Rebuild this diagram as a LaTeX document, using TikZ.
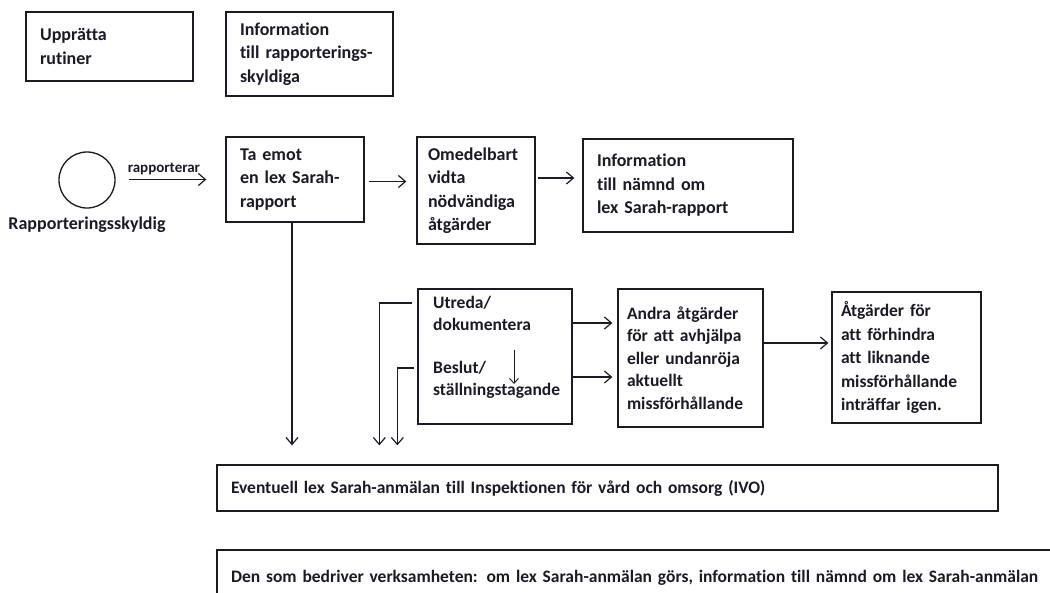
\documentclass[tikz,border=0pt]{standalone}
\usepackage{fontspec}
\setmainfont{Carlito}[RawFeature={-liga}]
\usetikzlibrary{arrows.meta}
\definecolor{ink}{HTML}{1B1B26}
\tikzset{
  box/.style={draw=ink, line width=1.3pt, rectangle, inner xsep=14pt, inner ysep=0pt,
    align=left, text=ink, font=\fontsize{18}{23.5}\selectfont\bfseries},
  arr/.style={draw=ink, line width=1.2pt, -{Straight Barb[length=7pt,width=12pt,line width=1.2pt]}},
  lbl/.style={text=ink, inner sep=0pt, font=\fontsize{17.5}{22}\selectfont\bfseries},
}
\begin{document}
\begin{tikzpicture}[x=1pt,y=-1pt]
\useasboundingbox[fill=white] (0,0) rectangle (1050,592);
\clip (0,0) rectangle (1050,592);
% top boxes
\node[box, minimum width=167pt, minimum height=69pt, text width=139pt] (upp) at (109.5,46.5) {Upprätta\\rutiner};
\node[box, minimum width=167pt, minimum height=84pt, text width=139pt] (info1) at (309.5,54) {Information\\till rapporterings-\\skyldiga};
% reporter
\node[draw=ink, line width=1.3pt, circle, minimum size=56pt, inner sep=0pt] (rep) at (87,180) {};
\node[lbl, font=\fontsize{18}{22}\selectfont\bfseries] (replbl) at (87,225) {Rapporteringsskyldig};
% row 2
\node[box, minimum width=138pt, minimum height=85pt, text width=110pt] (taemot) at (295,179.5) {Ta emot\\en lex Sarah-\\rapport};
\node[box, minimum width=118pt, minimum height=107pt, text width=96pt, inner xsep=11pt] (omedel) at (476,190.5) {Omedelbart\\vidta\\nödvändiga\\åtgärder};
\node[box, minimum width=210pt, minimum height=93pt, text width=182pt] (infon) at (688,185.5) {Information\\till nämnd om\\lex Sarah-rapport};
% row 3
\node[draw=ink, line width=1.3pt, rectangle, minimum width=154pt, minimum height=135pt, inner sep=0pt] (utr) at (495,356.5) {};
\node[lbl, anchor=west, align=left] (utreda) at (433,313) {Utreda/\\dokumentera};
\node[lbl, anchor=west, align=left] (beslut) at (433,380) {Beslut/\\ställningstagande};
\node[box, minimum width=145pt, minimum height=138pt, text width=127pt, inner xsep=9pt, font=\fontsize{17.5}{22.5}\selectfont\bfseries] (andra) at (690.5,358) {Andra åtgärder\\för att avhjälpa\\eller undanröja\\aktuellt\\missförhållande};
\node[box, minimum width=149pt, minimum height=131pt, text width=131pt, inner xsep=9pt, font=\fontsize{17.5}{23.5}\selectfont\bfseries] (atg) at (906.5,357.5) {Åtgärder för\\att förhindra\\att liknande\\missförhållande\\inträffar igen.};
% bottom boxes
\node[box, minimum width=781pt, minimum height=46pt, text width=753pt, font=\fontsize{17.5}{20}\selectfont\bfseries] (event) at (607.5,488) {Eventuell lex Sarah-anmälan till Inspektionen för vård och omsorg (IVO)};
\node[box, minimum width=850pt, minimum height=56pt, text width=822pt, font=\fontsize{17.5}{20}\selectfont\bfseries] (den) at (642,578) {Den som bedriver verksamheten: om lex Sarah-anmälan görs, information till nämnd om lex Sarah-anmälan};
% connectors
\draw[arr, shorten <=13pt, shorten >=19pt] (rep.east |- taemot.west) -- node[lbl, pos=0.44, above=4pt, font=\fontsize{15}{16}\selectfont\bfseries] (rapp) {rapporterar} (taemot.west);
\draw[arr, shorten <=4pt, shorten >=10pt] ([yshift=-2pt]taemot.east) -- ([yshift=-2pt]taemot.east -| omedel.west);
\draw[arr, shorten <=2pt, shorten >=8pt] ([yshift=7.5pt]omedel.east |- infon.west) -- ([yshift=7.5pt]infon.west);
\draw[arr, shorten >=19pt] ([xshift=-3pt]taemot.south) -- ([xshift=-3pt]taemot.south |- event.north);
\coordinate (ua) at ([yshift=53.5pt,xshift=-5pt]utr.west);
\coordinate (ba) at ([yshift=-11.5pt,xshift=-3pt]utr.west);
\draw[arr, shorten >=19pt] (ua) -- ++(-33,0) coordinate (uc) -- (uc |- event.north);
\draw[arr, shorten >=19pt] (ba) -- ++(-17,0) coordinate (bc) -- (bc |- event.north);
\coordinate (ia) at (514,350);
\coordinate (ib) at (514,384);
\draw[draw=ink, line width=0.9pt, -{Straight Barb[length=5pt,width=9pt,line width=0.9pt]}] (ia) -- (ib);
\draw[arr, shorten >=5pt] ([yshift=33.5pt]utr.east) -- ([yshift=33.5pt]utr.east -| andra.west);
\draw[arr, shorten >=5pt] ([yshift=-20.5pt]utr.east) -- ([yshift=-20.5pt]utr.east -| andra.west);
\draw[arr, shorten >=3pt] ([yshift=15pt]andra.east) -- ([yshift=15pt]andra.east -| atg.west);
\end{tikzpicture}
\end{document}
